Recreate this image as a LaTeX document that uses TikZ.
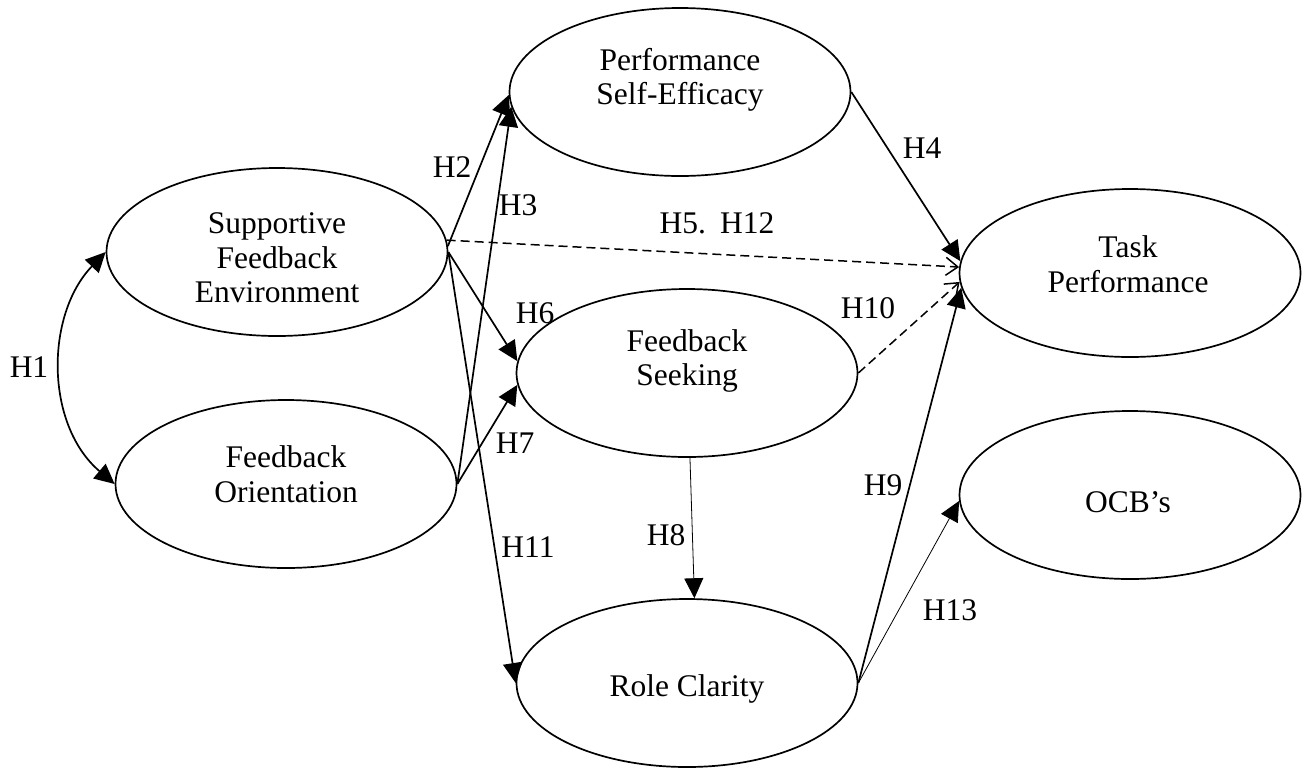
\documentclass[tikz,border=0pt]{standalone}
\usepackage{fontspec}
\setmainfont{Liberation Serif}
\usetikzlibrary{shapes.geometric,arrows.meta}
\begin{document}
\begin{tikzpicture}[x=1pt,y=-1pt,
  construct/.style={draw,ellipse,line width=1.7pt,inner sep=0pt,
    minimum width=341pt,minimum height=168pt},
  ctext/.style={align=center,font=\fontsize{31.5pt}{34.5pt}\selectfont,inner sep=0pt},
  hyp/.style={font=\fontsize{31.5pt}{34pt}\selectfont,inner sep=0pt},
  tip/.style={-{Triangle[length=20pt,width=19pt]}},
  path/.style={line width=1.7pt,tip},
  thinpath/.style={line width=0.8pt,tip},
  dashpath/.style={line width=1.5pt,dash pattern=on 9pt off 5pt,
    -{Straight Barb[length=12pt,width=18pt,line width=1.5pt]}},
  corr/.style={line width=1.7pt,{Triangle[length=20pt,width=19pt]}-{Triangle[length=20pt,width=19pt]}}]
\useasboundingbox (0,0) rectangle (1311,769);

% constructs
\node[construct] (sfe) at (277,252) {};
\node[construct] (fo)  at (286,484) {};
\node[construct] (pse) at (680,92)  {};
\node[construct] (fs)  at (687,373) {};
\node[construct] (rc)  at (687,683) {};
\node[construct] (tp)  at (1130,273) {};
\node[construct] (ocb) at (1130,495) {};

% construct names
\node[ctext] (sfe-t) at (277,258) {Supportive\\Feedback\\Environment};
\node[ctext] (fo-t)  at (286,474) {Feedback\\Orientation};
\node[ctext] (pse-t) at (680,80)  {Performance\\Self-Efficacy};
\node[ctext] (fs-t)  at (687,361) {Feedback\\Seeking};
\node[ctext] (rc-t)  at (687,689) {Role Clarity};
\node[ctext] (tp-t)  at (1128,264) {Task\\Performance};
\node[ctext] (ocb-t) at (1128,502) {OCB’s};

% paths
\draw[corr] (sfe.west) .. controls (45,315) and (45,425) .. (fo.west);
\draw[path] (sfe.2) -- (pse.181);
\draw[path] (fo.east) -- (pse.185);
\draw[path] (sfe.east) -- (fs.176);
\draw[path] (fo.east) -- (fs.184);
\draw[path] (sfe.east) -- (rc.west);
\draw[thinpath] (fs.272) -- (rc.85);
\draw[dashpath] (sfe.4) -- (tp.178);
\draw[path] (pse.east) -- (tp.176);
\draw[dashpath] (fs.east) -- (tp.183);
\draw[path] (rc.east) -- (tp.185);
\draw[thinpath] (rc.east) -- (ocb.182);

% hypothesis labels
\node[hyp] (h1)  at (29,367)  {H1};
\node[hyp] (h2)  at (452,167) {H2};
\node[hyp] (h3)  at (518,205) {H3};
\node[hyp] (h4)  at (922,148) {H4};
\node[hyp] (h5)  at (717,223) {H5.\hspace{0.45em}H12};
\node[hyp] (h6)  at (535,313) {H6};
\node[hyp] (h7)  at (515,443) {H7};
\node[hyp] (h8)  at (666,535) {H8};
\node[hyp] (h9)  at (883,485) {H9};
\node[hyp] (h10) at (868,308) {H10};
\node[hyp] (h11) at (528,547) {H11};
\node[hyp] (h13) at (950,610) {H13};
\end{tikzpicture}
\end{document}
